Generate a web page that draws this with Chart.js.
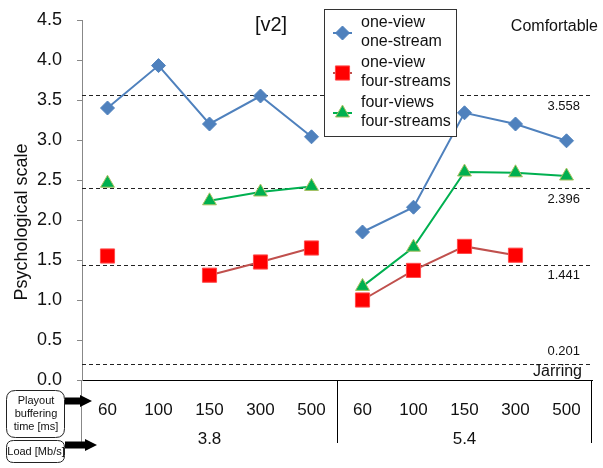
<!DOCTYPE html>
<html><head><meta charset="utf-8">
<script src="https://cdn.jsdelivr.net/npm/chart.js@4"></script>
<style>html,body{margin:0;padding:0;background:#fff}canvas{display:block}</style>
</head><body>
<canvas id="c" width="603" height="468"></canvas>
<script>
// ---- data ----
const bufferTimes = ['60','100','150','300','500','60','100','150','300','500'];
const loads = ['3.8','5.4'];
const oneViewOneStream    = [3.40, 3.93, 3.20, 3.55, 3.04, 1.85, 2.16, 3.34, 3.20, 2.99];
const oneViewFourStreams  = [1.55, null, 1.31, 1.475, 1.65, 1.00, 1.37, 1.67, 1.56, null];
const fourViewsFourStreams= [2.46, null, 2.24, 2.35, 2.42, 1.17, 1.66, 2.60, 2.59, 2.55];
const seriesNames = [['one-view','one-stream'],['one-view','four-streams'],['four-views','four-streams']];
const thresholds = [3.558, 2.396, 1.441, 0.201];
const thresholdLabels = ['3.558','2.396','1.441','0.201'];
const yMin = 0, yMax = 4.5, yStep = 0.5;

const FONT = '"Liberation Sans", Arial, Helvetica, sans-serif';
const groupBreak = ctx => ctx.p0DataIndex === 4 ? 'rgba(0,0,0,0)' : undefined;

const styles = [
  {line:'#4F81BD', fill:'#4F81BD', stroke:'#4F81BD', shape:'rectRot', r:7},
  {line:'#C0504D', fill:'#FF0000', stroke:'#FF4A4A', shape:'rect', r:10},
  {line:'#00B050', fill:'#00B050', stroke:'#A8C060', shape:'triangle', r:8}
];
const seriesData = [oneViewOneStream, oneViewFourStreams, fourViewsFourStreams];

function drawMarker(ctx, s, x, y){
  ctx.save();
  ctx.beginPath();
  const r = s.r;
  if (s.shape === 'rectRot'){
    ctx.moveTo(x-r,y); ctx.lineTo(x,y-r); ctx.lineTo(x+r,y); ctx.lineTo(x,y+r); ctx.closePath();
  } else if (s.shape === 'rect'){
    const h = r*Math.SQRT1_2; ctx.rect(x-h,y-h,2*h,2*h);
  } else {
    for (let i=0;i<3;i++){ const a = i*2*Math.PI/3; const px=x+Math.sin(a)*r, py=y-Math.cos(a)*r; i?ctx.lineTo(px,py):ctx.moveTo(px,py);} ctx.closePath();
  }
  ctx.fillStyle = s.fill; ctx.fill();
  ctx.lineWidth = 1; ctx.strokeStyle = s.stroke; ctx.stroke();
  ctx.restore();
}

function arrow(ctx, x0, x1, y){
  ctx.save();
  ctx.fillStyle = '#000';
  ctx.fillRect(x0, y-3.5, (x1-x0)-10, 7);
  ctx.beginPath();
  ctx.moveTo(x1-12, y-6); ctx.lineTo(x1, y); ctx.lineTo(x1-12, y+6); ctx.closePath();
  ctx.fill();
  ctx.restore();
}

function roundRect(ctx, x, y, w, h, r){
  ctx.beginPath();
  ctx.moveTo(x+r,y); ctx.lineTo(x+w-r,y); ctx.quadraticCurveTo(x+w,y,x+w,y+r);
  ctx.lineTo(x+w,y+h-r); ctx.quadraticCurveTo(x+w,y+h,x+w-r,y+h);
  ctx.lineTo(x+r,y+h); ctx.quadraticCurveTo(x,y+h,x,y+h-r);
  ctx.lineTo(x,y+r); ctx.quadraticCurveTo(x,y,x+r,y); ctx.closePath();
}

const extras = {
  id: 'extras',
  beforeDatasetsDraw(chart){
    const {ctx, chartArea: ca, scales:{y}} = chart;
    ctx.save();
    ctx.strokeStyle = '#222'; ctx.lineWidth = 1; ctx.setLineDash([4,3]);
    thresholds.forEach(v => {
      const py = Math.round(y.getPixelForValue(v)) + 0.5;
      ctx.beginPath(); ctx.moveTo(ca.left, py); ctx.lineTo(591, py); ctx.stroke();
    });
    ctx.restore();
  },
  afterDraw(chart){
    const {ctx, chartArea: ca, scales:{x, y}} = chart;
    ctx.save();
    // threshold labels
    ctx.fillStyle = '#111'; ctx.font = '13px ' + FONT; ctx.textAlign = 'right'; ctx.textBaseline = 'middle';
    thresholds.forEach((v,i) => {
      const py = y.getPixelForValue(v);
      const off = i === 3 ? -12 : 11;
      ctx.fillText(thresholdLabels[i], 580, py + off);
    });
    ctx.font = '16px ' + FONT;
    ctx.fillText('Comfortable', 598, 27);
    ctx.fillText('Jarring', 582, 372);
    // title
    ctx.textAlign = 'center'; ctx.font = '20px ' + FONT;
    ctx.fillText('[v2]', 271, 25);
    // y title
    ctx.save();
    ctx.translate(27, 222); ctx.rotate(-Math.PI/2);
    ctx.font = '18px ' + FONT; ctx.textAlign = 'center'; ctx.textBaseline = 'alphabetic';
    ctx.fillText('Psychological scale', 0, 0);
    ctx.restore();
    // legend
    ctx.fillStyle = '#fff'; ctx.fillRect(324.5, 9.5, 132, 127);
    ctx.strokeStyle = '#333'; ctx.lineWidth = 1; ctx.strokeRect(324.5, 9.5, 132, 127);
    seriesNames.forEach((nm, i) => {
      const my = 33 + 40*i;
      const s = styles[i];
      ctx.strokeStyle = s.line; ctx.lineWidth = 2;
      ctx.beginPath(); ctx.moveTo(333, my); ctx.lineTo(352, my); ctx.stroke();
      drawMarker(ctx, s, 342.5, my);
      ctx.fillStyle = '#111'; ctx.font = '16px ' + FONT; ctx.textAlign = 'left'; ctx.textBaseline = 'middle';
      ctx.fillText(nm[0], 361, my - 10);
      ctx.fillText(nm[1], 361, my + 9);
    });
    // bottom structure
    const bottom = 443;
    ctx.strokeStyle = '#888'; ctx.lineWidth = 1;
    ctx.beginPath(); ctx.moveTo(ca.left - 0.5, ca.bottom); ctx.lineTo(ca.left - 0.5, bottom); ctx.stroke();
    ctx.strokeStyle = '#000';
    const mid = Math.round((x.getPixelForValue(4) + x.getPixelForValue(5))/2) + 0.5;
    ctx.beginPath(); ctx.moveTo(mid, ca.bottom); ctx.lineTo(mid, bottom); ctx.stroke();
    ctx.beginPath(); ctx.moveTo(ca.right - 0.5, ca.bottom); ctx.lineTo(ca.right - 0.5, bottom); ctx.stroke();
    // load labels
    ctx.fillStyle = '#111'; ctx.font = '17px ' + FONT; ctx.textAlign = 'center'; ctx.textBaseline = 'middle';
    ctx.fillText(loads[0], x.getPixelForValue(2), 439);
    ctx.fillText(loads[1], x.getPixelForValue(7), 439);
    // side boxes
    ctx.strokeStyle = '#222'; ctx.lineWidth = 1;
    roundRect(ctx, 6.5, 390.5, 58, 47, 9); ctx.stroke();
    roundRect(ctx, 6.5, 440.5, 58, 22, 7); ctx.stroke();
    ctx.font = '11px ' + FONT; ctx.fillStyle = '#111';
    ctx.fillText('Playout', 36, 401);
    ctx.fillText('buffering', 36, 414);
    ctx.fillText('time [ms]', 36, 427);
    ctx.fillText('Load [Mb/s]', 36, 452);
    arrow(ctx, 65, 92, 401);
    arrow(ctx, 65, 97, 445);
    ctx.restore();
  }
};

const datasets = seriesData.map((d, i) => ({
  label: seriesNames[i].join(' '),
  data: d,
  borderColor: styles[i].line,
  backgroundColor: styles[i].fill,
  pointBackgroundColor: styles[i].fill,
  pointBorderColor: styles[i].stroke,
  pointBorderWidth: 1,
  pointStyle: styles[i].shape,
  pointRadius: styles[i].r,
  borderWidth: 2,
  spanGaps: false,
  tension: 0,
  segment: { borderColor: groupBreak }
}));

new Chart(document.getElementById('c'), {
  type: 'line',
  data: { labels: bufferTimes, datasets },
  options: {
    responsive: false,
    animation: false,
    layout: { padding: { top: 20, right: 1, left: 0, bottom: 0 } },
    plugins: { legend: { display: false }, tooltip: { enabled: false }, title: { display: false } },
    scales: {
      x: {
        type: 'category',
        offset: true,
        grid: { display: false },
        border: { display: true, color: '#000', width: 1 },
        ticks: { color: '#111', font: { family: FONT, size: 17 }, padding: 12, maxRotation: 0, autoSkip: false },
        afterFit: s => { s.height = 88; s.paddingLeft = 0; s.paddingRight = 0; }
      },
      y: {
        min: yMin, max: yMax,
        grid: { display: true, drawOnChartArea: false, drawTicks: true, tickLength: 5, color: '#888' },
        border: { display: true, color: '#888', width: 1 },
        ticks: { stepSize: yStep, color: '#111', font: { family: FONT, size: 18 }, padding: 15,
                 callback: v => Number(v).toFixed(1) },
        afterFit: s => { s.width = 82; s.paddingTop = 0; s.paddingBottom = 0; }
      }
    }
  },
  plugins: [extras]
});
</script>
</body></html>
